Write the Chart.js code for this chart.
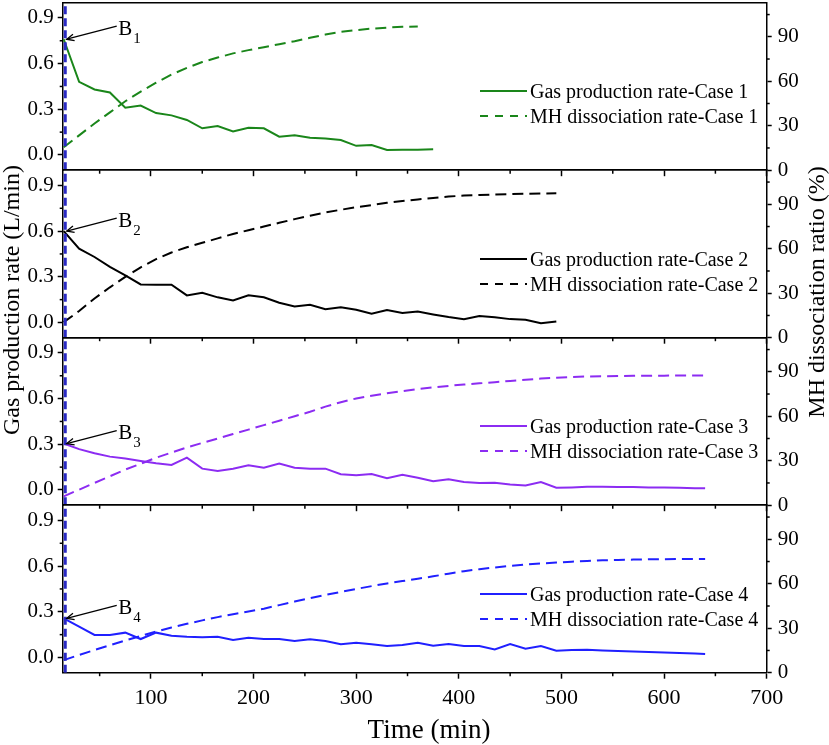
<!DOCTYPE html>
<html><head><meta charset="utf-8">
<script src="https://cdn.jsdelivr.net/npm/chart.js@4.4.0/dist/chart.umd.min.js"></script>
<style>
html,body{margin:0;padding:0;background:#fff;}
#wrap{position:relative;width:829px;height:745px;overflow:hidden;font-family:'Liberation Serif','Times New Roman',serif;color:#000;background:#fff;}
canvas{position:absolute;left:0;top:0;}
.ytitle{position:absolute;width:400px;height:24px;text-align:center;font-size:24px;line-height:24px;white-space:nowrap;transform:rotate(-90deg);}
.xtitle{position:absolute;width:300px;height:27px;text-align:center;font-size:27px;line-height:27px;white-space:nowrap;}
.legtxt{position:absolute;font-size:20px;line-height:20px;white-space:nowrap;}
.legsvg{position:absolute;overflow:visible;}
</style></head><body>
<div id="wrap">
<canvas id="c0" width="829" height="745"></canvas>
<canvas id="c1" width="829" height="745"></canvas>
<canvas id="c2" width="829" height="745"></canvas>
<canvas id="c3" width="829" height="745"></canvas>
<div class="ytitle" style="left:-189px;top:288px;">Gas production rate (L/min)</div>
<div class="ytitle" style="left:616px;top:280px;">MH dissociation ratio (%)</div>
<div class="xtitle" style="left:279px;top:716px;">Time (min)</div>
</div>
<script>
// ---------------- data ----------------
const times1 = [15,30,45,60,75,90,105,120,135,150,165,180,195,210,225,240,255,270,285,300,315,330,345,360,375];
const gas1 = [0.76,0.48,0.43,0.41,0.31,0.325,0.275,0.26,0.23,0.175,0.19,0.155,0.178,0.175,0.12,0.13,0.113,0.108,0.098,0.06,0.065,0.033,0.034,0.035,0.038];
const diss1 = [15.5,23.5,31.5,39,46.5,53,59,64.5,69,73,76,78.8,81,83,85,87,89.3,91.5,93.3,94.5,95.5,96.2,96.7,97];

const times2 = [15,30,45,60,75,90,105,120,135,150,165,180,195,210,225,240,255,270,285,300,315,330,345,360,375,390,405,420,435,450,465,480,495];
const gas2 = [0.60,0.485,0.43,0.365,0.31,0.25,0.248,0.248,0.178,0.195,0.165,0.145,0.178,0.165,0.13,0.105,0.116,0.087,0.1,0.084,0.057,0.081,0.062,0.072,0.053,0.036,0.022,0.042,0.035,0.022,0.018,-0.005,0.007];
const diss2 = [10.5,18,26.5,34,41,47.5,53,57.5,61,64,67,70,72.5,75,77.5,80,82.3,84.5,86.3,88,89.5,91,92.2,93.3,94.3,95.2,95.9,96.3,96.6,96.9,97.1,97.3,97.4];

const times34 = [15,30,45,60,75,90,105,120,135,150,165,180,195,210,225,240,255,270,285,300,315,330,345,360,375,390,405,420,435,450,465,480,495,510,525,540,555,570,585,600,615,630,640];
const gas3 = [0.305,0.268,0.241,0.219,0.206,0.191,0.175,0.164,0.212,0.14,0.125,0.14,0.162,0.146,0.173,0.146,0.14,0.14,0.103,0.096,0.105,0.077,0.1,0.08,0.057,0.07,0.052,0.045,0.047,0.036,0.03,0.052,0.015,0.017,0.021,0.021,0.02,0.019,0.017,0.016,0.014,0.012,0.011];
const diss3 = [6,10.5,15,19.5,24,28,32,35.5,39,42,45,48,51,54,57,60,63,66.5,69.5,72,73.8,75.5,77,78.3,79.5,80.5,81.4,82.2,83,83.8,84.6,85.4,86,86.5,86.8,87,87.2,87.3,87.4,87.4,87.5,87.5,87.5];
const gas4 = [0.257,0.202,0.148,0.148,0.163,0.121,0.163,0.143,0.136,0.132,0.136,0.115,0.13,0.121,0.122,0.108,0.119,0.108,0.087,0.097,0.087,0.075,0.082,0.097,0.077,0.088,0.075,0.075,0.053,0.088,0.057,0.075,0.044,0.049,0.05,0.045,0.042,0.039,0.036,0.033,0.03,0.026,0.023];
const diss4 = [8.5,12,15.3,18.5,21.7,24.8,27.8,30.5,33,35.3,37.5,39.5,41.3,43.2,45.6,48,50.3,52.5,54.5,56.5,58.4,60.2,61.8,63.4,65,66.8,68.5,69.8,71,72,72.9,73.7,74.3,74.9,75.4,75.8,76.1,76.3,76.5,76.6,76.7,76.7,76.7];

const caseNames = ['1','2','3','4'];
const gasLabels = ['Gas production rate-Case 1','Gas production rate-Case 2','Gas production rate-Case 3','Gas production rate-Case 4'];
const dissLabels = ['MH dissociation rate-Case 1','MH dissociation rate-Case 2','MH dissociation rate-Case 3','MH dissociation rate-Case 4'];
const xTicks = [100,200,300,400,500,600,700];
const leftTicks = [0,0.3,0.6,0.9];
const rightTicks = [0,30,60,90];
const markerTime = 16.5;

// ---------------- layout / style ----------------
const E = [2.7,170.2,337.7,505.2,672.7];
const X_MIN = 14, X_MAX = 700, L_MIN = -0.1, L_MAX = 1.0, R_MIN = 0, R_MAX = 113;
const LEFT_W = 62.7, RIGHT_W = 829 - 766.7;
const colors = ['#1a861a','#000000','#8c2cf2','#2020ff'];
const markerColor = '#2a2ac4';

Chart.defaults.font.family = "'Liberation Serif','Times New Roman',serif";
Chart.defaults.color = '#000';

const panels = [
  {times: times1, gas: gas1, diss: diss1},
  {times: times2, gas: gas2, diss: diss2},
  {times: times34, gas: gas3, diss: diss3},
  {times: times34, gas: gas4, diss: diss4}
];

const minorTickPlugin = {
  id: 'minorTicks',
  afterDraw(chart) {
    const ctx = chart.ctx, a = chart.chartArea;
    const mids = (s) => {
      const v = s.ticks.map(t => t.value), out = [];
      const step = v[1] - v[0];
      for (let k = -1; k < v.length; k++) {
        const m = v[0] + step * (k + 0.5);
        if (m > s.min + 1e-9 && m < s.max - 1e-9) out.push(m);
      }
      return out;
    };
    ctx.save();
    ctx.strokeStyle = '#000'; ctx.lineWidth = 1.5;
    const seg = (x1,y1,x2,y2) => { ctx.beginPath(); ctx.moveTo(x1,y1); ctx.lineTo(x2,y2); ctx.stroke(); };
    const sx = chart.scales.x; mids(sx).forEach(m => { const p = sx.getPixelForValue(m); seg(p, a.bottom, p, a.bottom + 3.5); });
    const sy = chart.scales.y; mids(sy).forEach(m => { const p = sy.getPixelForValue(m); seg(a.left, p, a.left - 3, p); });
    const sr = chart.scales.y2; mids(sr).forEach(m => { const p = sr.getPixelForValue(m); seg(a.right, p, a.right + 3, p); });
    ctx.restore();
  }
};

const bMarkPlugin = {
  id: 'bMark',
  afterDatasetsDraw(chart, args, opts) {
    const ctx = chart.ctx, sx = chart.scales.x, sy = chart.scales.y;
    const tipX = sx.getPixelForValue(opts.time) + 3, tipY = sy.getPixelForValue(opts.value);
    const tailX = tipX + 50, tailY = tipY - 13;
    ctx.save();
    ctx.strokeStyle = '#000'; ctx.lineWidth = 1.3;
    ctx.beginPath(); ctx.moveTo(tailX, tailY); ctx.lineTo(tipX, tipY); ctx.stroke();
    const ang = Math.atan2(tailY - tipY, tailX - tipX), L = 8, w = 0.42;
    ctx.beginPath();
    ctx.moveTo(tipX + L*Math.cos(ang+w), tipY + L*Math.sin(ang+w));
    ctx.lineTo(tipX, tipY);
    ctx.lineTo(tipX + L*Math.cos(ang-w), tipY + L*Math.sin(ang-w));
    ctx.stroke();
    ctx.fillStyle = '#000'; ctx.textBaseline = 'alphabetic'; ctx.textAlign = 'left';
    ctx.font = "21px 'Liberation Serif'";
    ctx.fillText('B', tailX + 1.5, tailY + 8.5);
    const wB = ctx.measureText('B').width;
    ctx.font = "15px 'Liberation Serif'";
    ctx.fillText(opts.n, tailX + 1.5 + wB + 1, tailY + 16.5);
    ctx.restore();
  }
};

panels.forEach((p, i) => {
  const isLast = i === 3;
  const xH = isLast ? 745 - E[4] : 8;
  const col = colors[i];
  new Chart(document.getElementById('c' + i), {
    type: 'line',
    data: {
      datasets: [
        {label: 'marker', data: [{x: markerTime, y: L_MIN}, {x: markerTime, y: L_MAX}], borderColor: markerColor, borderWidth: 3, borderDash: [8,4], pointRadius: 0, yAxisID: 'y'},
        {label: gasLabels[i], data: p.times.map((t,k) => ({x: t, y: p.gas[k]})), borderColor: col, borderWidth: 2, pointRadius: 0, tension: 0, yAxisID: 'y'},
        {label: dissLabels[i], data: p.diss.map((v,k) => ({x: p.times[k], y: v})), borderColor: col, borderWidth: 2, borderDash: [11,6], pointRadius: 0, tension: 0, yAxisID: 'y2'}
      ]
    },
    options: {
      responsive: false, animation: false, devicePixelRatio: 1,
      layout: {padding: {top: E[i], bottom: 745 - E[i+1] - xH, left: 0, right: 0}},
      plugins: {legend: {display: false}, tooltip: {enabled: false},
        bMark: {n: caseNames[i], time: p.times[0], value: p.gas[0]}},
      scales: {
        x: {type: 'linear', position: 'bottom', min: X_MIN, max: X_MAX,
          afterBuildTicks: s => { s.ticks = xTicks.map(v => ({value: v})); },
          afterFit: s => { s.height = xH; },
          grid: {display: true, drawOnChartArea: false, drawTicks: true, tickLength: 6, tickWidth: 1.5, tickColor: '#000'},
          border: {display: true, color: '#000', width: 1.5},
          ticks: {display: isLast, font: {size: 22}, color: '#000', padding: 6, maxRotation: 0, autoSkip: false, callback: v => String(v)},
          title: {display: false}
        },
        xTop: {type: 'linear', position: 'top', min: X_MIN, max: X_MAX,
          afterFit: s => { s.height = 0; },
          grid: {display: false, drawTicks: false},
          border: {display: true, color: '#000', width: 1.5},
          ticks: {display: false}
        },
        y: {type: 'linear', position: 'left', min: L_MIN, max: L_MAX,
          afterBuildTicks: s => { s.ticks = leftTicks.map(v => ({value: v})); },
          afterFit: s => { s.width = LEFT_W; s.paddingTop = 0; s.paddingBottom = 0; },
          grid: {drawOnChartArea: false, tickLength: 5, tickWidth: 1.5, tickColor: '#000'},
          border: {color: '#000', width: 1.5},
          ticks: {font: {size: 21}, color: '#000', padding: 4, callback: v => Number(v).toFixed(1)}
        },
        y2: {type: 'linear', position: 'right', min: R_MIN, max: R_MAX,
          afterBuildTicks: s => { s.ticks = rightTicks.map(v => ({value: v})); },
          afterFit: s => { s.width = RIGHT_W; s.paddingTop = 0; s.paddingBottom = 0; },
          grid: {drawOnChartArea: false, tickLength: 5, tickWidth: 1.5, tickColor: '#000'},
          border: {color: '#000', width: 1.5},
          ticks: {font: {size: 21}, color: '#000', padding: 6, callback: v => String(v)}
        }
      }
    },
    plugins: [minorTickPlugin, bMarkPlugin]
  });

  // HTML legend
  const wrap = document.getElementById('wrap');
  [[gasLabels[i], null, 88.5], [dissLabels[i], '8 7', 113.5]].forEach(([txt, dash, off]) => {
    const cy = E[i] + off;
    const svgNS = 'http://www.w3.org/2000/svg';
    const svg = document.createElementNS(svgNS, 'svg');
    svg.setAttribute('class', 'legsvg');
    svg.setAttribute('width', '48'); svg.setAttribute('height', '6');
    svg.style.left = '480px'; svg.style.top = (cy - 3) + 'px';
    const ln = document.createElementNS(svgNS, 'line');
    ln.setAttribute('x1', '0'); ln.setAttribute('x2', '47'); ln.setAttribute('y1', '3'); ln.setAttribute('y2', '3');
    ln.setAttribute('stroke', col); ln.setAttribute('stroke-width', '2');
    if (dash) ln.setAttribute('stroke-dasharray', dash);
    svg.appendChild(ln);
    wrap.appendChild(svg);
    const d = document.createElement('div');
    d.className = 'legtxt';
    d.style.left = '530px'; d.style.top = (cy - 10) + 'px';
    d.textContent = txt;
    wrap.appendChild(d);
  });
});
</script>
</body></html>
